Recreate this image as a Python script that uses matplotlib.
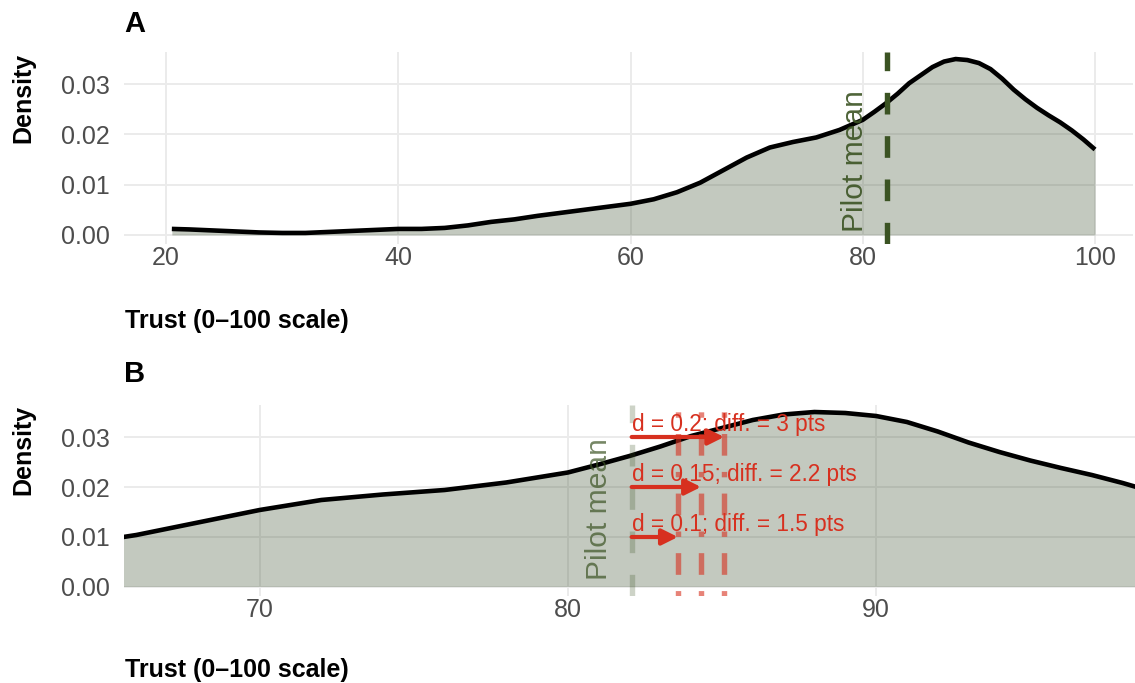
import matplotlib
matplotlib.use("Agg")
import matplotlib.pyplot as plt


# Density of trust scores
trust_x = [20.5, 22, 24, 26, 28, 30, 32, 34, 36, 38, 40, 42, 44, 46, 48, 50,
           52, 54, 56, 58, 60, 62, 64, 66, 68, 70, 72, 74, 76, 78, 80, 81,
           82, 83, 84, 85, 86, 87, 88, 89, 90, 91, 92, 93, 94, 95, 96, 97,
           98, 99, 100]
trust_density = [0.0012, 0.0011, 0.0009, 0.0007, 0.0005, 0.0004, 0.0004,
                 0.0006, 0.0008, 0.0010, 0.0012, 0.0012, 0.0014, 0.0019,
                 0.0026, 0.0031, 0.0038, 0.0044, 0.0050, 0.0056, 0.0062,
                 0.0071, 0.0085, 0.0104, 0.0129, 0.0154, 0.0174, 0.0185,
                 0.0194, 0.0209, 0.0229, 0.0245, 0.0262, 0.0281, 0.0302,
                 0.0318, 0.0334, 0.0345, 0.0350, 0.0348, 0.0342, 0.0330,
                 0.0311, 0.0289, 0.0270, 0.0253, 0.0238, 0.0224, 0.0208,
                 0.0190, 0.0170]

pilot_mean = 82.07

# effect sizes and the shift in points they imply
effect_d = [0.1, 0.15, 0.2]
diff_pts = [1.5, 2.25, 3.0]
arrow_y = [0.01, 0.02, 0.03]
effect_labels = ["d = 0.1; diff. = 1.5 pts",
                 "d = 0.15; diff. = 2.2 pts",
                 "d = 0.2; diff. = 3 pts"]

ticks_a = [20, 40, 60, 80, 100]
ticks_b = [70, 80, 90]
ticks_y = [0.00, 0.01, 0.02, 0.03]
ticklabels_y = ["0.00", "0.01", "0.02", "0.03"]


plt.rcParams['font.family'] = ['Liberation Sans', 'DejaVu Sans']

W, H = 1135, 683
green = '#3B5323'
fill_col = '#3B4D2E'
red = '#D7301F'
tick_col = '#4D4D4D'
grid_col = '#EBEBEB'

fig = plt.figure(figsize=(W / 100, H / 100), dpi=100)
axA = fig.add_axes([124 / W, 1 - 244 / H, 1009 / W, 192 / H])
axB = fig.add_axes([124 / W, 1 - 596 / H, 1011 / W, 191 / H])


def style_axis(ax, xticks):
    for s in ax.spines.values():
        s.set_visible(False)
    ax.set_xticks(xticks)
    ax.set_xticklabels([str(t) for t in xticks])
    ax.set_yticks(ticks_y)
    ax.set_yticklabels(ticklabels_y)
    ax.tick_params(axis='both', length=0, labelsize=18, colors=tick_col)
    ax.tick_params(axis='x', pad=1.5)
    ax.tick_params(axis='y', pad=10)
    ax.grid(True, color=grid_col, lw=1.4)
    ax.set_axisbelow(True)
    ax.set_ylim(-0.0018, 0.0364)


def draw_density(ax):
    ax.fill_between(trust_x, 0, trust_density, color=fill_col, alpha=0.3, lw=0)
    ax.plot(trust_x, trust_density, color='black', lw=3.3,
            solid_capstyle='butt', solid_joinstyle='round')


# Panel A: full range
style_axis(axA, ticks_a)
axA.set_xlim(16.38, 103.27)
draw_density(axA)
axA.axvline(pilot_mean, color=green, lw=3.9, linestyle=(0, (4, 4)))
axA.annotate('Pilot mean', xy=(pilot_mean, 0.0006), xytext=(-17.3, 0),
             textcoords='offset points', rotation=90, rotation_mode='anchor',
             ha='left', va='baseline', fontsize=21.6, color=green, alpha=0.9)

# Panel B: zoom on the pilot mean
style_axis(axB, ticks_b)
axB.set_xlim(65.6, 98.4)
draw_density(axB)
axB.axvline(pilot_mean, color=green, lw=3.9, alpha=0.25, linestyle=(0, (4, 4)))
axB.annotate('Pilot mean', xy=(pilot_mean, 0.0013), xytext=(-18, 0),
             textcoords='offset points', rotation=90, rotation_mode='anchor',
             ha='left', va='baseline', fontsize=21.6, color=green, alpha=0.7)

for d, diff, y, lab in zip(effect_d, diff_pts, arrow_y, effect_labels):
    axB.axvline(pilot_mean + diff, color=red, alpha=0.6, lw=3.9,
                linestyle=(0, (1, 3, 4, 3)))
    axB.annotate('', xy=(pilot_mean + diff, y), xytext=(pilot_mean, y),
                 arrowprops=dict(arrowstyle='-|>,head_length=0.5,head_width=0.25',
                                 color=red, lw=3.0, shrinkA=0, shrinkB=0,
                                 mutation_scale=19))
    axB.text(pilot_mean, y + 0.0013, lab, ha='left', va='baseline',
             fontsize=16.3, color=red)

# titles and axis labels
for label, base in [('A', 32), ('B', 382)]:
    fig.text(124 / W, 1 - base / H, label, fontsize=21, weight='bold',
             ha='left', va='baseline')
for base in [328, 677]:
    fig.text(125 / W, 1 - base / H, 'Trust (0\u2013100 scale)', fontsize=18,
             weight='bold', ha='left', va='baseline')
for top in [53, 405]:
    fig.text(23 / W, 1 - top / H, 'Density', fontsize=18, weight='bold',
             rotation=90, ha='center', va='top')

fig.savefig('out.png', dpi=100)
